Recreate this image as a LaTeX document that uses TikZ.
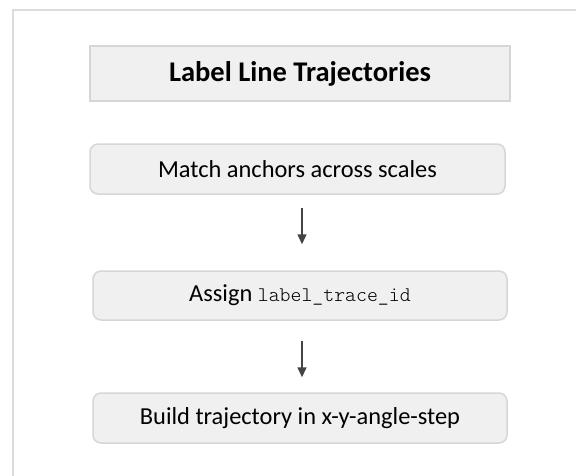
\documentclass[tikz,border=0pt]{standalone}
\usepackage{fontspec}
\setmainfont{Carlito}
\newfontfamily\codefont{Latin Modern Mono Light}
\usetikzlibrary{arrows.meta,calc}
\definecolor{boxfill}{HTML}{F0F0F0}
\definecolor{boxline}{HTML}{D6D6D6}
\definecolor{frameline}{HTML}{DCDCDC}
\definecolor{arrowcol}{HTML}{444444}
\tikzset{
  titlebox/.style={draw=boxline, line width=1.5pt, fill=boxfill,
    minimum width=420pt, minimum height=55pt, inner sep=0pt,
    font=\fontsize{28.5}{32}\selectfont\bfseries},
  stepbox/.style={draw=boxline, line width=1.5pt, fill=boxfill,
    rounded corners=8pt, minimum width=414pt, minimum height=50pt,
    inner sep=0pt, font=\fontsize{24.4}{28}\selectfont},
  flow/.style={draw=arrowcol, line width=1.5pt,
    -{Triangle[width=9pt,length=10pt]}}
}
\begin{document}
\begin{tikzpicture}[x=1pt,y=-1pt]
  \useasboundingbox (0,0) rectangle (576,475);
  % outer panel edges
  \draw[frameline, line width=1.5pt] (13,476) -- (13,10) -- (577,10);
  % heading
  \node[titlebox] (title) at (300,73.5) {Label Line Trajectories};
  % pipeline steps
  \node[stepbox, minimum width=415pt] (s1) at (297.5,169) {Match anchors across scales};
  \node[stepbox, minimum height=49pt] (s2) at (300,295.5)
    {Assign {\codefont\fontsize{20.8}{26}\selectfont label\_trace\_id}};
  \node[stepbox] (s3) at (300,418) {Build trajectory in x-y-angle-step};
  % arrow column
  \coordinate (ax) at (302,0);
  \draw[flow, shorten <=13pt, shorten >=26pt] (s1.south -| ax) -- (s2.north -| ax);
  \draw[flow, shorten <=20pt, shorten >=15pt] (s2.south -| ax) -- (s3.north -| ax);
\end{tikzpicture}
\end{document}
